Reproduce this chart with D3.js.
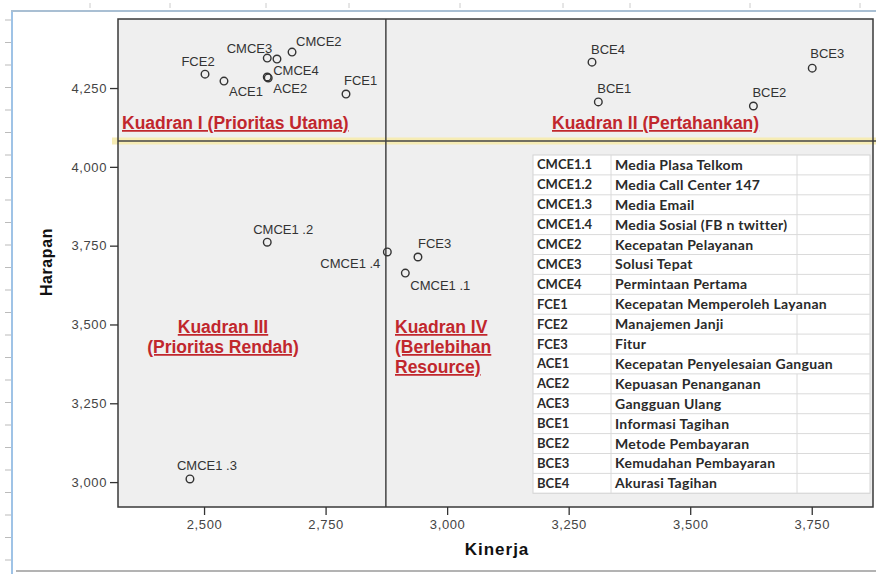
<!DOCTYPE html>
<html>
  <head>
    <meta charset="utf-8" />
    <title>Kuadran Kinerja - Harapan</title>
    <script src="https://cdn.jsdelivr.net/npm/d3@7"></script>
    <style type="text/css">
      body { margin: 0; background: #fff; }
      svg { display: block; font-family: "Liberation Sans", Arial, sans-serif; }
      .axis text { font-size: 13px; fill: #444; letter-spacing: 0.6px; }
      .axis line { stroke: #333; stroke-width: 1.3; }
      .axis path { display: none; }
      .quad { fill: #c1272d; font-weight: bold; font-size: 17.5px; text-decoration: underline; }
      .tbl text { font-family: Lato, "Noto Sans", sans-serif; font-weight: 700; font-size: 13px; fill: #2a2a2a; }
      .tbl text.desc { font-size: 14px; letter-spacing: 0.3px; }
    </style>
  </head>

  <body>
    <svg id="chart" width="876" height="574"></svg>
    <script type="text/javascript">
      // data
      var codes = ['CMCE1.1', 'CMCE1.2', 'CMCE1.3', 'CMCE1.4', 'CMCE2', 'CMCE3', 'CMCE4',
        'FCE1', 'FCE2', 'FCE3', 'ACE1', 'ACE2', 'ACE3', 'BCE1', 'BCE2', 'BCE3', 'BCE4'];
      var pointLabels = ['CMCE1 .1', 'CMCE1 .2', 'CMCE1 .3', 'CMCE1 .4', 'CMCE2', 'CMCE3', 'CMCE4',
        'FCE1', 'FCE2', 'FCE3', 'ACE1', 'ACE2', '', 'BCE1', 'BCE2', 'BCE3', 'BCE4'];
      var kinerja = [2.914, 2.630, 2.471, 2.877, 2.681, 2.630, 2.630,
        2.792, 2.502, 2.940, 2.541, 2.632, 2.650, 3.311, 3.630, 3.751, 3.298];
      var harapan = [3.663, 3.761, 3.010, 3.730, 4.364, 4.345, 4.285,
        4.231, 4.294, 3.714, 4.272, 4.282, 4.342, 4.206, 4.193, 4.313, 4.332];
      var descriptions = ['Media Plasa Telkom', 'Media Call Center 147', 'Media Email',
        'Media Sosial (FB n twitter)', 'Kecepatan Pelayanan', 'Solusi Tepat', 'Permintaan Pertama',
        'Kecepatan Memperoleh Layanan', 'Manajemen Janji', 'Fitur', 'Kecepatan Penyelesaian Ganguan',
        'Kepuasan Penanganan', 'Gangguan Ulang', 'Informasi Tagihan', 'Metode Pembayaran',
        'Kemudahan Pembayaran', 'Akurasi Tagihan'];
      var xTicks = [2.5, 2.75, 3.0, 3.25, 3.5, 3.75];
      var yTicks = [3.0, 3.25, 3.5, 3.75, 4.0, 4.25];
      var xCut = 2.874; // garis batas kuadran
      var yCut = 4.082;

      // posisi label (dx, dy, anchor) relatif ke titik
      var labelOffset = {
        'CMCE1.1': [5, 17, 'start'], 'CMCE1.2': [-14, -8, 'start'], 'CMCE1.3': [-13, -9, 'start'],
        'CMCE1.4': [-7, 16, 'end'], 'CMCE2': [4, -6, 'start'], 'CMCE3': [5, -5, 'end'],
        'CMCE4': [6, -2, 'start'], 'FCE1': [-2, -9, 'start'], 'FCE2': [-7, -8, 'middle'],
        'FCE3': [0, -9, 'start'], 'ACE1': [5, 15, 'start'], 'ACE2': [5, 15, 'start'],
        'BCE1': [-1, -9, 'start'], 'BCE2': [-1, -9, 'start'], 'BCE3': [-2, -10, 'start'],
        'BCE4': [-1, -8, 'start']
      };

      var svg = d3.select('#chart');
      var W = 876, H = 574;
      var L = 118, R = 873, T = 19, B = 507;

      var loc = d3.formatLocale({ decimal: ',', thousands: '.', grouping: [3], currency: ['', ''] });
      var fmt = loc.format('.3f');

      var scX = d3.scaleLinear().domain([2.323, 3.876]).range([L, R]);
      var scY = d3.scaleLinear().domain([2.921, 4.469]).range([B, T]);

      // bingkai screenshot
      var deco = svg.append('g');
      deco.append('line').attr('x1', 12).attr('x2', 12).attr('y1', 11).attr('y2', H)
        .attr('stroke', '#9fc3e6').attr('stroke-width', 2);
      deco.append('line').attr('x1', 11).attr('x2', W).attr('y1', 11).attr('y2', 11)
        .attr('stroke', '#a9bfd3').attr('stroke-width', 2);
      deco.append('line').attr('x1', 16).attr('x2', W).attr('y1', 571).attr('y2', 571)
        .attr('stroke', '#9a9a9a').attr('stroke-width', 1.5);
      deco.selectAll('.lt').data(d3.range(20, H, 22.5)).enter().append('line')
        .attr('x1', 5).attr('x2', 11).attr('y1', (d) => d).attr('y2', (d) => d)
        .attr('stroke', '#bbb');
      deco.selectAll('.tt').data([90, 170, 266, 349, 460, 563, 630, 750, 860]).enter().append('line')
        .attr('x1', (d) => d).attr('x2', (d) => d).attr('y1', 3).attr('y2', 8)
        .attr('stroke', '#ccc');

      // area plot
      svg.append('rect').attr('x', L).attr('y', T).attr('width', R - L).attr('height', B - T)
        .attr('fill', '#efefef');

      // garis kuadran
      var yc = scY(yCut), xc = scX(xCut);
      svg.append('line').attr('x1', L - 6).attr('x2', W).attr('y1', yc).attr('y2', yc)
        .attr('stroke', '#f6ecb4').attr('stroke-width', 7);
      svg.append('line').attr('x1', L).attr('x2', W).attr('y1', yc).attr('y2', yc)
        .attr('stroke', '#444').attr('stroke-width', 1.5);
      svg.append('line').attr('x1', xc).attr('x2', xc).attr('y1', T).attr('y2', B)
        .attr('stroke', '#444').attr('stroke-width', 1.5);

      // tabel keterangan
      var tbl = svg.append('g').attr('class', 'tbl');
      var tx0 = 533, tx1 = 611, tx2 = 797, tx3 = 870, ty0 = 155, rh = 19.9;
      tbl.append('rect').attr('x', tx0).attr('y', ty0).attr('width', tx3 - tx0)
        .attr('height', rh * codes.length).attr('fill', '#fff').attr('stroke', '#d4d4d4');
      var rows = tbl.selectAll('g.row').data(codes).enter().append('g')
        .attr('class', 'row').attr('transform', (d, i) => 'translate(0,' + (ty0 + i * rh) + ')');
      rows.append('line').attr('x1', tx0).attr('x2', tx3).attr('y1', rh).attr('y2', rh)
        .attr('stroke', '#dadada');
      rows.append('line').attr('x1', tx1).attr('x2', tx1).attr('y1', 0).attr('y2', rh)
        .attr('stroke', '#dadada');
      rows.append('text').attr('x', tx0 + 4).attr('y', rh / 2 + 4.5).text((d) => d);
      rows.append('text').attr('class', 'desc').attr('x', tx1 + 4).attr('y', rh / 2 + 5)
        .text((d, i) => descriptions[i]);
      // garis kolom ketiga hilang bila teks melewatinya
      rows.each(function () {
        var g = d3.select(this);
        var w = g.select('.desc').node().getComputedTextLength();
        if (tx1 + 4 + w < tx2 - 6) {
          g.append('line').attr('x1', tx2).attr('x2', tx2).attr('y1', 0).attr('y2', rh)
            .attr('stroke', '#dadada');
        }
      });

      // bingkai plot
      svg.append('rect').attr('x', L).attr('y', T).attr('width', R - L).attr('height', B - T)
        .attr('fill', 'none').attr('stroke', '#3a3a3a').attr('stroke-width', 1.5);

      // sumbu
      svg.append('g').attr('class', 'axis').attr('transform', 'translate(' + L + ',0)')
        .call(d3.axisLeft(scY).tickValues(yTicks).tickFormat(fmt).tickSize(8).tickPadding(3));
      svg.append('g').attr('class', 'axis').attr('transform', 'translate(0,' + B + ')')
        .call(d3.axisBottom(scX).tickValues(xTicks).tickFormat(fmt).tickSize(8).tickPadding(5));

      svg.append('text').attr('transform', 'translate(52,262) rotate(-90)')
        .attr('text-anchor', 'middle').attr('font-weight', 'bold').attr('font-size', 16)
        .attr('letter-spacing', 0.6).attr('fill', '#111').text('Harapan');
      svg.append('text').attr('x', 497).attr('y', 555)
        .attr('text-anchor', 'middle').attr('font-weight', 'bold').attr('font-size', 17)
        .attr('letter-spacing', 1).attr('fill', '#111').text('Kinerja');

      // judul kuadran
      var q = svg.append('g').attr('class', 'quad');
      q.append('text').attr('x', 122).attr('y', 129).text('Kuadran I (Prioritas Utama)');
      q.append('text').attr('x', 552).attr('y', 129).text('Kuadran II (Pertahankan)');
      q.append('text').attr('x', 223).attr('y', 333).attr('text-anchor', 'middle').text('Kuadran III');
      q.append('text').attr('x', 223).attr('y', 353).attr('text-anchor', 'middle').text('(Prioritas Rendah)');
      q.append('text').attr('x', 395).attr('y', 333).text('Kuadran IV');
      q.append('text').attr('x', 395).attr('y', 353).text('(Berlebihan');
      q.append('text').attr('x', 395).attr('y', 373).text('Resource)');

      // titik
      var pts = codes.map((c, i) => ({ code: c, label: pointLabels[i], x: kinerja[i], y: harapan[i] }));
      var gp = svg.append('g');
      gp.selectAll('circle').data(pts).enter().append('circle')
        .attr('cx', (d) => scX(d.x)).attr('cy', (d) => scY(d.y)).attr('r', 3.8)
        .attr('fill', 'none').attr('stroke', '#333').attr('stroke-width', 1.4);
      gp.selectAll('text').data(pts.filter((d) => d.label)).enter().append('text')
        .attr('x', (d) => scX(d.x) + labelOffset[d.code][0])
        .attr('y', (d) => scY(d.y) + labelOffset[d.code][1])
        .attr('text-anchor', (d) => labelOffset[d.code][2])
        .attr('font-size', 13).attr('fill', '#333').text((d) => d.label);
    </script>
  </body>
</html>
